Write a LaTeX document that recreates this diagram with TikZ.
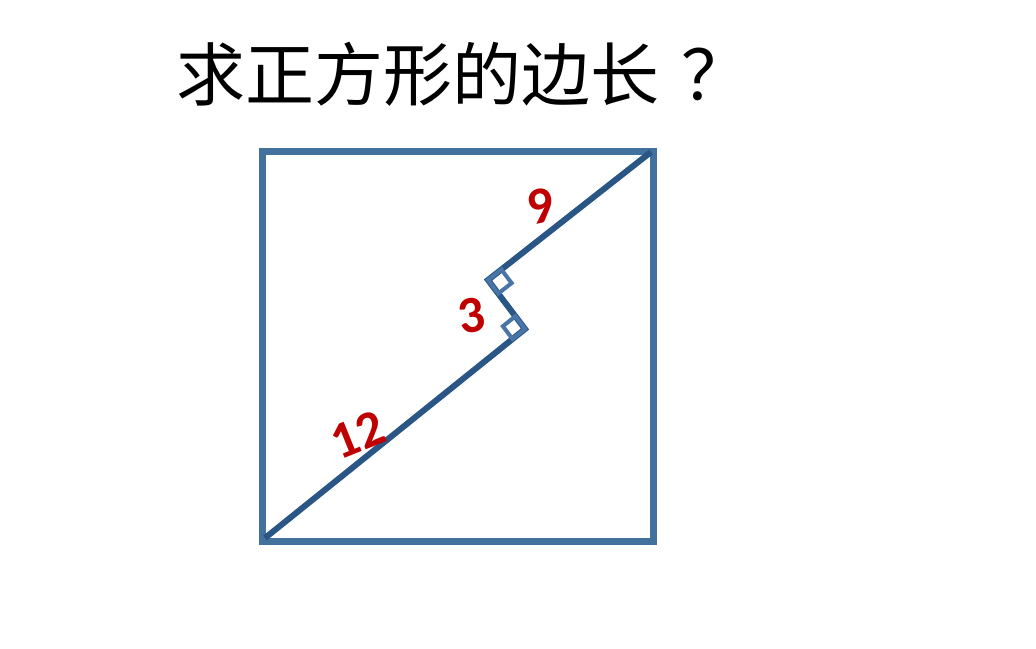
\documentclass[tikz,border=0pt]{standalone}
\usepackage{fontspec}
\setmainfont{Carlito}
\newfontfamily\cjk{Noto Sans CJK SC}
\usetikzlibrary{calc}
\definecolor{sqblue}{RGB}{65,113,156}
\definecolor{lnblue}{RGB}{42,86,134}
\definecolor{mkblue}{RGB}{72,116,166}
\definecolor{numred}{RGB}{192,0,0}
\tikzset{
  sqline/.style={draw=sqblue, line width=7pt},
  zigline/.style={draw=lnblue, line width=6pt},
  mark90/.style={draw=mkblue, line width=4pt},
  numlbl/.style={text=numred, font=\fontsize{52}{56}\selectfont\bfseries, inner sep=0pt},
  title/.style={font=\cjk\fontsize{69}{76}\selectfont, inner sep=0pt, anchor=base west}
}
\begin{document}
\begin{tikzpicture}[x=1pt,y=-1pt]
\useasboundingbox[fill=white] (0,0) rectangle (1036,648);
% title
\node[title] (ttl) at (176,100) {求正方形的边长\kern 22pt？};
% square corners
\coordinate (SA) at (262.5,541);
\coordinate (SB) at (653.5,541);
\coordinate (SC) at (653.5,151.5);
\coordinate (SD) at (262.5,151.5);
\draw[sqline] (SA) -- (SB) -- (SC) -- (SD) -- cycle;
% zigzag path
\coordinate (BL) at (265,538);
\coordinate (V2) at (525,329);
\coordinate (V1) at (488,280);
\coordinate (TR) at (651,152);
\draw[zigline] (BL) -- (V2) -- (V1) -- (TR);
% right angle marks
\coordinate (M1a) at ($(V1)!17pt!(TR)$);
\coordinate (M1b) at ($(V1)!17pt!(V2)$);
\coordinate (M1c) at ($(M1a)+(M1b)-(V1)$);
\coordinate (M2a) at ($(V2)!16pt!(V1)$);
\coordinate (M2b) at ($(V2)!16pt!(BL)$);
\coordinate (M2c) at ($(M2a)+(M2b)-(V2)$);
\draw[mark90] (V1) -- (M1a) -- (M1c) -- (M1b) -- cycle;
\draw[mark90] (V2) -- (M2a) -- (M2c) -- (M2b) -- cycle;
% labels
\node[numlbl, rotate=22] (l12) at (358,435) {12};
\node[numlbl, rotate=12] (l9) at (541,206) {9};
\node[numlbl, rotate=10] (l3) at (472,316) {3};
\end{tikzpicture}
\end{document}
